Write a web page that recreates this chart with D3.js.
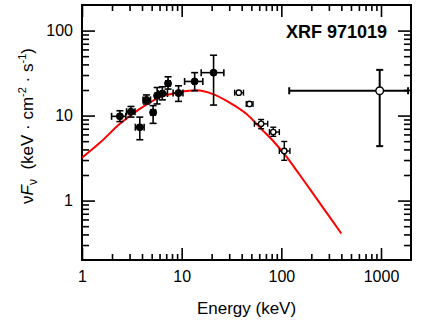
<!DOCTYPE html>
<html>
  <head>
  <title>XRF 971019</title>
  <style>
    body, html {
      margin: 0;
      padding: 0;
      background: #fff;
    }
    svg text {
      font-family: "Liberation Sans", Arial, sans-serif;
      fill: #000;
    }
  </style>
  </head>
  <body>

  <svg id="svg" width="436" height="325"></svg>

  <script src="https://d3js.org/d3.v7.min.js"></script>
  <script>
    // filled points (low energy data)
    const fillE = [2.4, 3.1, 3.8, 4.43, 5.17, 5.67, 6.4, 7.3, 9.3, 13.5, 20.9]
    const fillELo = [1.98, 2.8, 3.43, 4.1, 4.9, 5.4, 5.8, 6.95, 8.2, 10.7, 15.7]
    const fillEHi = [2.75, 3.4, 4.2, 4.87, 5.45, 5.95, 7.2, 7.65, 10.3, 16.3, 26.5]
    const fillF = [9.8, 11.1, 7.3, 15.3, 10.9, 17.1, 18.2, 23.9, 18.4, 25.2, 32]
    const fillFLo = [8.5, 9.6, 5.2, 13.7, 8.1, 13.7, 15.3, 20.5, 14.7, 19.6, 13.3]
    const fillFHi = [11.4, 12.8, 9.6, 17.5, 13.1, 21.4, 21.8, 28.6, 22.4, 32, 51.3]

    // open points (high energy data)
    const openE = [37.4, 47.9, 62.7, 83, 107]
    const openELo = [34, 44.5, 53.7, 76, 95.5]
    const openEHi = [41.7, 52, 73, 95.5, 122]
    const openF = [18.6, 13.7, 8.0, 6.4, 3.83]
    const openFLo = [18.6, 13.7, 7.0, 5.7, 2.98]
    const openFHi = [18.6, 13.7, 9.0, 7.3, 4.96]

    // the wide point near 1 MeV
    const bigE = [970]
    const bigELo = [120]
    const bigEHi = [1870]
    const bigF = [19.6]
    const bigFLo = [4.37]
    const bigFHi = [34.5]

    // model curve
    const curveE = [1, 1.5, 2.4, 3.8, 6, 9.5, 14, 20.6, 30, 44.5, 65, 85, 111, 150, 200, 300, 400]
    const curveF = [3.2, 4.75, 8.0, 12.0, 16.4, 18.8, 19.8, 17.9, 14.3, 10.5, 6.7, 4.86, 3.35, 2.07, 1.29, 0.66, 0.41]

    const xMajor = [1, 10, 100, 1000]
    const yMajor = [1, 10, 100]
    const xLabels = ['1', '10', '100', '1000']
    const yLabels = ['1', '10', '100']

    const margin = { top: 5, right: 25, bottom: 65, left: 82 }
    const width = 436 - margin.left - margin.right
    const height = 325 - margin.top - margin.bottom

    const xscale = d3.scaleLog().domain([1, 2000]).range([margin.left, margin.left + width])
    const yscale = d3.scaleLog().domain([0.2, 200]).range([margin.top + height, margin.top])

    const svg = d3.select('#svg')

    const xMinor = xscale.ticks().filter(v => !xMajor.includes(v) && v < 2000)
    const yMinor = yscale.ticks().filter(v => !yMajor.some(m => Math.abs(m - v) < 1e-9) && v > 0.2 && v < 200)

    const bottom = margin.top + height
    const right = margin.left + width

    // minor ticks on all four sides
    svg.append('g').attr('transform', `translate(0, ${bottom})`)
      .call(d3.axisBottom(xscale).tickValues(xMinor).tickSizeInner(-6).tickSizeOuter(0).tickFormat(''))
    svg.append('g').attr('transform', `translate(0, ${margin.top})`)
      .call(d3.axisTop(xscale).tickValues(xMinor).tickSizeInner(-6).tickSizeOuter(0).tickFormat(''))
    svg.append('g').attr('transform', `translate(${margin.left}, 0)`)
      .call(d3.axisLeft(yscale).tickValues(yMinor).tickSizeInner(-7).tickSizeOuter(0).tickFormat(''))
    svg.append('g').attr('transform', `translate(${right}, 0)`)
      .call(d3.axisRight(yscale).tickValues(yMinor).tickSizeInner(-7).tickSizeOuter(0).tickFormat(''))

    // major ticks
    svg.append('g').attr('class', 'xlab').attr('transform', `translate(0, ${bottom})`)
      .call(d3.axisBottom(xscale).tickValues(xMajor).tickSizeInner(-12).tickSizeOuter(0)
        .tickPadding(11).tickFormat((d, i) => xLabels[i]))
    svg.append('g').attr('transform', `translate(0, ${margin.top})`)
      .call(d3.axisTop(xscale).tickValues(xMajor).tickSizeInner(-12).tickSizeOuter(0).tickFormat(''))
    svg.append('g').attr('class', 'ylab').attr('transform', `translate(${margin.left}, 0)`)
      .call(d3.axisLeft(yscale).tickValues(yMajor).tickSizeInner(-13).tickSizeOuter(0)
        .tickPadding(9).tickFormat((d, i) => yLabels[i]))
    svg.append('g').attr('transform', `translate(${right}, 0)`)
      .call(d3.axisRight(yscale).tickValues(yMajor).tickSizeInner(-13).tickSizeOuter(0).tickFormat(''))

    svg.selectAll('.domain').remove()
    svg.selectAll('.tick line').attr('stroke', '#000').attr('stroke-width', 1.6)
    svg.selectAll('.tick text').attr('font-size', 16).attr('font-family', '"Liberation Sans", Arial, sans-serif')

    // frame
    svg.append('rect')
      .attr('x', margin.left).attr('y', margin.top)
      .attr('width', width).attr('height', height)
      .attr('fill', 'none').attr('stroke', '#000').attr('stroke-width', 2)

    // model curve
    const curve = curveE.map((e, i) => [e, curveF[i]])
    svg.append('path')
      .datum(curve)
      .attr('fill', 'none')
      .attr('stroke', '#ff0000')
      .attr('stroke-width', 2)
      .attr('d', d3.line().x(d => xscale(d[0])).y(d => yscale(d[1])).curve(d3.curveMonotoneX))

    function drawPoints(E, ELo, EHi, F, FLo, FHi, opts) {
      const g = svg.append('g')
      const data = E.map((e, i) => ({ e, elo: ELo[i], ehi: EHi[i], f: F[i], flo: FLo[i], fhi: FHi[i] }))
      const cap = opts.cap
      data.forEach(d => {
        const cx = xscale(d.e), cy = yscale(d.f)
        const segs = []
        segs.push([xscale(d.elo), cy, xscale(d.ehi), cy])
        segs.push([xscale(d.elo), cy - cap, xscale(d.elo), cy + cap])
        segs.push([xscale(d.ehi), cy - cap, xscale(d.ehi), cy + cap])
        if (d.fhi > d.flo) {
          segs.push([cx, yscale(d.fhi), cx, yscale(d.flo)])
          segs.push([cx - cap, yscale(d.fhi), cx + cap, yscale(d.fhi)])
          segs.push([cx - cap, yscale(d.flo), cx + cap, yscale(d.flo)])
        }
        g.selectAll(null).data(segs).enter().append('line')
          .attr('x1', s => s[0]).attr('y1', s => s[1])
          .attr('x2', s => s[2]).attr('y2', s => s[3])
          .attr('stroke', '#000').attr('stroke-width', opts.sw)
      })
      g.selectAll('circle').data(data).enter().append('circle')
        .attr('cx', d => xscale(d.e)).attr('cy', d => yscale(d.f))
        .attr('r', opts.r)
        .attr('fill', opts.filled ? '#000' : '#fff')
        .attr('stroke', '#000').attr('stroke-width', opts.filled ? 1 : 1.4)
    }

    drawPoints(fillE, fillELo, fillEHi, fillF, fillFLo, fillFHi, { cap: 3.5, sw: 1.6, r: 3.5, filled: true })
    drawPoints(openE, openELo, openEHi, openF, openFLo, openFHi, { cap: 3, sw: 1.4, r: 2.7, filled: false })
    drawPoints(bigE, bigELo, bigEHi, bigF, bigFLo, bigFHi, { cap: 3.5, sw: 2, r: 3.8, filled: false })

    // label
    svg.append('text')
      .attr('x', 387).attr('y', 38)
      .attr('text-anchor', 'end')
      .attr('font-size', 18).attr('font-weight', 'bold')
      .text('XRF 971019')

    // axis titles
    svg.append('text')
      .attr('x', (margin.left + right) / 2).attr('y', 314)
      .attr('text-anchor', 'middle')
      .attr('font-size', 17)
      .text('Energy (keV)')

    const yt = svg.append('text')
      .attr('transform', 'translate(33, 126) rotate(-90)')
      .attr('text-anchor', 'middle')
      .attr('font-size', 17)
    yt.append('tspan').text('ν')
    yt.append('tspan').attr('font-style', 'italic').text('F')
    yt.append('tspan').attr('font-size', 12).attr('dy', 4).text('ν')
    yt.append('tspan').attr('dy', -4).text('\u00a0\u00a0(keV · cm')
    yt.append('tspan').attr('font-size', 11).attr('dy', -7).text('-2')
    yt.append('tspan').attr('dy', 7).text(' · s')
    yt.append('tspan').attr('font-size', 11).attr('dy', -7).text('-1')
    yt.append('tspan').attr('dy', 7).text(')')
  </script>
  </body>
</html>
